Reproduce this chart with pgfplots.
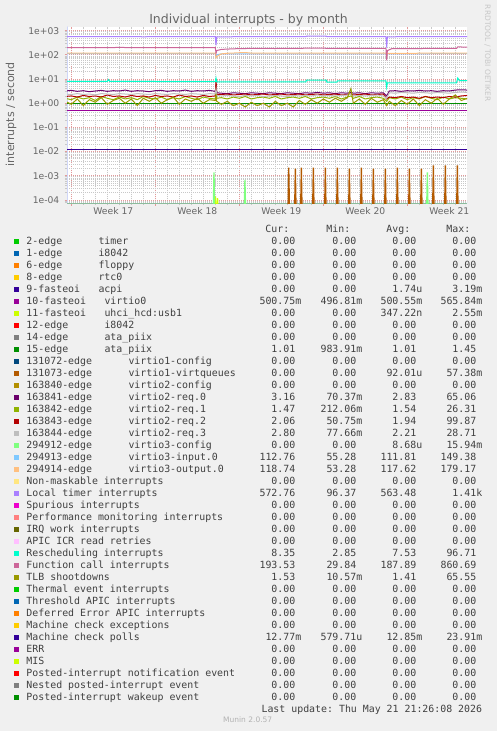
\documentclass[border=0pt]{standalone}
\usepackage{fontspec}
\setmainfont{DejaVu Sans}
\setmonofont{DejaVu Sans Mono}
\usepackage{pgfplots}
\pgfplotsset{compat=1.18}
\usepackage{pgfplotstable}
\usetikzlibrary{arrows.meta}

\definecolor{bgc}{HTML}{F0F0F0}
\definecolor{fontc}{HTML}{666666}
\definecolor{legc}{HTML}{404040}
\definecolor{axblue}{HTML}{CFD6F8}
\definecolor{axgreen}{HTML}{8CBC9C}
\definecolor{mgridc}{HTML}{E39A9A}
\definecolor{gridc}{HTML}{C8C8C8}
\definecolor{mA}{HTML}{00CC00}
\definecolor{mB}{HTML}{0066B3}
\definecolor{mC}{HTML}{FF8000}
\definecolor{mD}{HTML}{FFCC00}
\definecolor{mE}{HTML}{330099}
\definecolor{mF}{HTML}{990099}
\definecolor{mG}{HTML}{CCFF00}
\definecolor{mH}{HTML}{FF0000}
\definecolor{mI}{HTML}{808080}
\definecolor{mJ}{HTML}{008F00}
\definecolor{mK}{HTML}{00487D}
\definecolor{mL}{HTML}{B35A00}
\definecolor{mM}{HTML}{B38F00}
\definecolor{mN}{HTML}{6B006B}
\definecolor{mO}{HTML}{8FB300}
\definecolor{mP}{HTML}{B30000}
\definecolor{mQ}{HTML}{BEBEBE}
\definecolor{mR}{HTML}{80FF80}
\definecolor{mS}{HTML}{80C9FF}
\definecolor{mT}{HTML}{FFC080}
\definecolor{mU}{HTML}{FFE680}
\definecolor{mV}{HTML}{AA80FF}
\definecolor{mW}{HTML}{EE00CC}
\definecolor{mX}{HTML}{FF8080}
\definecolor{mY}{HTML}{666600}
\definecolor{mZ}{HTML}{FFBFFF}
\definecolor{mAA}{HTML}{00FFCC}
\definecolor{mAB}{HTML}{CC6699}
\definecolor{mAC}{HTML}{999900}

% noisy disk / TLB series: day, req.0, req.1, req.2, req.3, TLB
\pgfplotstableread{
x r0 r1 r2 r3 tlb
-0.5 3.2 1.6 1.9 2.4 1.2
0.0 3.4 1.4 2.0 2.3 0.9
0.5 3.1 1.8 1.8 2.5 1.5
1.0 3.3 1.5 2.1 2.3 0.8
1.5 3.0 1.7 1.9 2.4 1.4
2.0 3.2 1.3 2.0 2.2 1.1
2.5 3.4 1.9 1.8 2.5 1.7
3.0 3.1 1.6 2.2 2.4 0.9
3.5 3.3 1.4 1.9 2.3 1.3
4.0 3.2 1.8 2.0 2.5 1.6
4.5 3.5 1.5 1.8 2.4 1.0
5.0 3.1 1.7 2.1 2.3 1.5
5.5 3.3 1.4 1.9 2.5 0.8
6.0 3.2 1.9 2.0 2.4 1.6
6.5 3.0 1.6 1.8 2.3 1.2
7.0 3.3 1.5 2.1 2.5 1.7
7.5 3.4 1.8 1.9 2.4 1.0
8.0 3.1 1.4 2.0 2.3 1.4
8.5 3.3 1.7 1.8 2.5 1.8
9.0 3.2 1.5 2.2 2.4 0.9
9.5 3.5 1.9 1.9 2.3 1.5
10.0 3.1 1.6 2.0 2.5 1.2
10.5 3.3 1.4 1.8 2.4 1.6
11.0 3.2 1.8 2.1 2.3 1.0
11.5 3.4 1.6 1.9 2.5 1.4
12.0 3.1 1.5 2.0 2.4 1.3
12.06 5.0 3.0 10.0 4.0 2.5
12.12 2.7 1.6 2.3 2.1 1.2
12.5 2.6 1.7 2.3 2.0 0.9
13.0 2.5 1.5 2.4 2.1 1.2
13.5 2.7 1.8 2.2 2.0 0.8
14.0 2.6 1.6 2.3 1.9 1.0
14.5 2.5 1.9 2.4 2.1 0.7
15.0 2.7 1.5 2.2 2.0 1.1
15.5 2.6 1.7 2.3 2.1 0.8
16.0 2.5 1.8 2.4 1.9 1.0
16.5 2.7 1.6 2.2 2.0 0.7
17.0 2.6 1.9 2.3 2.1 1.2
17.5 2.5 1.5 2.4 2.0 0.8
18.0 2.7 1.7 2.2 1.9 1.0
18.5 2.6 1.8 2.3 2.1 0.7
19.0 2.5 1.6 2.4 2.0 1.3
19.5 2.7 1.9 2.2 2.1 0.9
20.0 2.6 1.5 2.3 2.0 1.4
20.5 2.8 1.7 2.4 2.2 1.0
21.0 2.6 1.8 2.2 2.0 1.5
21.5 2.7 1.6 2.3 2.1 1.1
22.0 2.5 1.9 2.4 2.0 1.6
22.5 2.7 1.5 2.2 2.1 1.2
23.0 2.6 1.8 2.3 2.2 1.7
23.3 2.8 2.0 2.4 2.3 4.0
23.5 2.6 1.6 2.2 2.0 1.0
24.0 2.7 1.9 2.3 2.1 1.5
24.5 2.5 1.5 2.4 2.0 0.9
25.0 2.7 1.7 2.2 2.1 1.6
25.5 2.6 1.8 2.3 2.2 1.1
26.0 2.7 1.6 2.4 2.0 1.4
26.28 2.0 1.2 1.5 1.6 0.8
26.5 3.2 1.7 1.8 2.7 1.2
27.0 3.3 1.5 1.7 2.6 0.8
27.5 3.1 1.8 1.9 2.8 1.3
28.0 3.3 1.4 1.7 2.7 0.9
28.5 3.2 1.7 1.8 2.6 1.5
29.0 3.4 1.5 1.6 2.8 0.8
29.5 3.2 1.9 1.9 2.7 1.4
30.0 3.3 1.6 1.7 2.6 1.0
30.5 3.1 1.4 1.8 2.8 1.6
31.0 3.3 1.8 1.7 2.7 0.9
31.5 3.2 1.5 1.9 2.6 1.5
32.0 3.5 1.7 1.8 2.8 2.2
32.5 3.6 1.6 2.0 2.9 1.3
33.0 3.5 1.5 2.1 2.8 1.6
}\noisy

\newcommand\sfx[1]{\rlap{#1}}
\newcommand\lfont{\fontsize{9.9bp}{12bp}\ttfamily}
\newcommand\lrow[9]{%
  \pgfmathsetmacro\yy{731-244.5-12*#1}%
  \node[anchor=base west, inner sep=0pt] at (14,\yy) {\textcolor{#2}{\rule{5.3bp}{5.3bp}}};%
  \node[anchor=base west, inner sep=0pt, text=legc, font=\lfont] at (26.3,\yy) {#3};%
  \node[anchor=base west, inner sep=0pt, text=legc, font=\lfont] at ({26.3+6*#4},\yy) {#5};%
  \node[anchor=base east, inner sep=0pt, text=legc, font=\lfont] at (295.5,\yy) {#6};%
  \node[anchor=base east, inner sep=0pt, text=legc, font=\lfont] at (356.5,\yy) {#7};%
  \node[anchor=base east, inner sep=0pt, text=legc, font=\lfont] at (416.5,\yy) {#8};%
  \node[anchor=base east, inner sep=0pt, text=legc, font=\lfont] at (476.5,\yy) {#9};%
}

\begin{document}
\begin{tikzpicture}[x=1bp,y=1bp]
\useasboundingbox (0,0) rectangle (497,731);
\fill[bgc] (0,0) rectangle (497,731);
\fill[white] (67,527.7) rectangle (467,704.3);

\begin{axis}[
  at={(67bp,527.7bp)}, anchor=south west, scale only axis,
  width=400bp, height=176.6bp,
  xmin=-0.358, xmax=32.975,
  ymode=log, log basis y=10, ymin=7.3e-5, ymax=1460,
  axis x line*=bottom, axis y line*=left,
  x axis line style={draw=axgreen, line width=1bp},
  y axis line style={draw=axblue, line width=1bp},
  xtick={0,7,14,21,28}, xticklabels={},
  extra x ticks={3.5,10.5,17.5,24.5,31.5},
  extra x tick labels={Week 17,Week 18,Week 19,Week 20,Week 21},
  extra x tick style={grid=none, major tick length=0pt},
  minor xtick={1,...,32},
  ytick={1e-4,1e-3,1e-2,1e-1,1,10,100,1000},
  yticklabels={1e-04,1e-03,1e-02,1e-01,1e+00,1e+01,1e+02,1e+03},
  minor ytick={8e-5,9e-5,
    2e-4,3e-4,4e-4,5e-4,6e-4,7e-4,8e-4,9e-4,
    2e-3,3e-3,4e-3,5e-3,6e-3,7e-3,8e-3,9e-3,
    2e-2,3e-2,4e-2,5e-2,6e-2,7e-2,8e-2,9e-2,
    0.2,0.3,0.4,0.5,0.6,0.7,0.8,0.9,
    2,3,4,5,6,7,8,9,
    20,30,40,50,60,70,80,90,
    200,300,400,500,600,700,800,900},
  xmajorgrids, xminorgrids, ymajorgrids, yminorgrids,
  major grid style={draw=mgridc, line width=0.8bp, dash pattern=on 1bp off 1bp},
  minor grid style={draw=gridc, line width=0.8bp, dash pattern=on 1bp off 1bp},
  tick align=outside, major tick length=2.5bp, minor tick length=2bp,
  major tick style={draw=mgridc, line width=0.8bp},
  minor tick style={draw=gridc, line width=0.8bp},
  ticklabel style={font=\fontsize{9.2bp}{10bp}\selectfont, text=fontc},
  /pgf/number format/assume math mode=true,
  yticklabel style={anchor=east, inner sep=0pt, xshift=-5bp},
  xticklabel style={anchor=north, inner sep=0pt, yshift=-4.5bp},
  every axis plot/.append style={line width=1bp, mark=none},
  clip=true,
]
% 10-fasteoi virtio0
\addplot[mF] coordinates {(-0.5,0.5) (33,0.5)};
% 11-fasteoi uhci spike
\addplot[mG] coordinates {(11.95,1e-5) (12.03,1.4e-4) (12.1,3e-5) (12.2,1.2e-4) (12.28,1e-5)};
% 15-edge ata_piix
\addplot[mJ] coordinates {(-0.5,1.01) (33,1.01)};
% 131073-edge virtio1-virtqueues spikes
\addplot[mL, line width=1.3bp] coordinates {
 (18.04,1e-5) (18.12,2.15e-3) (18.20,1e-5)
 (18.59,1e-5) (18.67,1.96e-3) (18.75,1e-5)
 (19.09,1e-5) (19.17,2.15e-3) (19.25,1e-5)
 (20.09,1e-5) (20.17,2.15e-3) (20.25,1e-5)
 (21.09,1e-5) (21.17,2.15e-3) (21.25,1e-5)
 (22.09,1e-5) (22.17,2.15e-3) (22.25,1e-5)
 (23.09,1e-5) (23.17,1.96e-3) (23.25,1e-5)
 (24.09,1e-5) (24.17,2.15e-3) (24.25,1e-5)
 (25.09,1e-5) (25.17,1.96e-3) (25.25,1e-5)
 (26.09,1e-5) (26.17,1.96e-3) (26.25,1e-5)
 (27.09,1e-5) (27.17,2.15e-3) (27.25,1e-5)
 (28.09,1e-5) (28.17,1.96e-3) (28.25,1e-5)
 (29.09,1e-5) (29.17,1.96e-3) (29.25,1e-5)
 (30.09,1e-5) (30.17,2.7e-3) (30.25,1e-5)
 (31.09,1e-5) (31.17,2.7e-3) (31.25,1e-5)
 (32.09,1e-5) (32.17,2.7e-3) (32.25,1e-5)};
% virtio2 req.0 .. req.3
\addplot[mN] table[x=x, y=r0] {\noisy};
\addplot[mO] table[x=x, y=r1] {\noisy};
\addplot[mP] table[x=x, y=r2] {\noisy};
\addplot[mQ] table[x=x, y=r3] {\noisy};
% 294912-edge virtio3-config spikes
\addplot[mR, line width=1.3bp] coordinates {
 (11.81,1e-5) (11.89,1.37e-3) (11.97,1e-5)
 (14.39,1e-5) (14.47,6.8e-4) (14.55,1e-5)
 (29.59,1e-5) (29.67,1.37e-3) (29.75,1e-5)};
% 294913 input.0
\addplot[mS] coordinates {(-0.5,113) (12.0,113) (12.06,85) (12.12,100) (12.5,110) (26.22,111) (26.28,90) (26.34,110) (33,112)};
% 294914 output.0
\addplot[mT] coordinates {(-0.5,118) (12.0,118) (12.06,75) (12.12,85) (12.5,110) (13,116) (14.5,125) (15,118) (26.22,117) (26.28,85) (26.34,115) (33,119)};
% Local timer interrupts
\addplot[mV] coordinates {(-0.5,560) (3,565) (6,560) (9,563) (12.0,563) (12.06,250) (12.12,555) (12.5,560) (19.55,562) (19.6,595) (21.25,595) (21.3,563) (26.22,563) (26.28,200) (26.34,560) (32.0,562) (33,565)};
% Rescheduling interrupts
\addplot[mAA] coordinates {(-0.5,8.0) (3.0,8.0) (3.1,9.5) (3.2,8.0) (12.0,7.8) (12.06,11) (12.12,7.6) (19.55,7.6) (19.6,9.0) (21.25,9.0) (21.3,7.4) (22.1,7.4) (22.2,8.3) (26.22,8.3) (26.28,4.6) (26.34,7.0) (32.1,7.0) (32.2,11) (32.35,8.5) (33,8.5)};
% Function call interrupts
\addplot[mAB] coordinates {(-0.5,200) (2,198) (4,202) (6,199) (8,201) (10,198) (12.0,200) (12.06,115) (12.12,150) (12.5,168) (13.5,178) (15,185) (17,183) (19.6,188) (20,192) (21.3,187) (23,185) (26.22,185) (26.28,60) (26.34,150) (26.7,180) (29,183) (32.1,184) (32.2,212) (33,210)};
% TLB shootdowns
\addplot[mAC] table[x=x, y=tlb] {\noisy};
% Machine check polls
\addplot[mE] coordinates {(-0.5,0.0128) (33,0.0128)};

\draw[axblue, line width=1bp, -{Triangle[length=5bp,width=5bp]}] (rel axis cs:0,1) -- ++(0,5bp);
\draw[axblue, line width=1bp, -{Triangle[length=5bp,width=5bp]}] (rel axis cs:1,0) -- ++(7bp,0);
\end{axis}

% title, axis label, side text
\node[anchor=base, inner sep=0pt, text=fontc, font=\fontsize{12.5bp}{14bp}\selectfont] at (248.5,707.5) {Individual interrupts - by month};
\node[anchor=base, inner sep=0pt, rotate=90, text=fontc, font=\fontsize{11bp}{13bp}\selectfont] at (14,616.8) {interrupts / second};
\node[anchor=base, inner sep=0pt, rotate=-90, text=black!22, font=\fontsize{7.5bp}{9bp}\selectfont] at (485,677.7) {RRDTOOL / TOBI OETIKER};

% legend header
\node[anchor=base east, inner sep=0pt, text=legc, font=\lfont] at (289.5,498.5) {Cur:};
\node[anchor=base east, inner sep=0pt, text=legc, font=\lfont] at (350.5,498.5) {Min:};
\node[anchor=base east, inner sep=0pt, text=legc, font=\lfont] at (410.5,498.5) {Avg:};
\node[anchor=base east, inner sep=0pt, text=legc, font=\lfont] at (470.5,498.5) {Max:};

\lrow{0}{mA}{2-edge}{12}{timer}{0.00}{0.00}{0.00}{0.00}
\lrow{1}{mB}{1-edge}{12}{i8042}{0.00}{0.00}{0.00}{0.00}
\lrow{2}{mC}{6-edge}{12}{floppy}{0.00}{0.00}{0.00}{0.00}
\lrow{3}{mD}{8-edge}{12}{rtc0}{0.00}{0.00}{0.00}{0.00}
\lrow{4}{mE}{9-fasteoi}{12}{acpi}{0.00}{0.00}{1.74\sfx{u}}{3.19\sfx{m}}
\lrow{5}{mF}{10-fasteoi}{13}{virtio0}{500.75\sfx{m}}{496.81\sfx{m}}{500.55\sfx{m}}{565.84\sfx{m}}
\lrow{6}{mG}{11-fasteoi}{13}{uhci\_hcd:usb1}{0.00}{0.00}{347.22\sfx{n}}{2.55\sfx{m}}
\lrow{7}{mH}{12-edge}{13}{i8042}{0.00}{0.00}{0.00}{0.00}
\lrow{8}{mI}{14-edge}{13}{ata\_piix}{0.00}{0.00}{0.00}{0.00}
\lrow{9}{mJ}{15-edge}{13}{ata\_piix}{1.01}{983.91\sfx{m}}{1.01}{1.45}
\lrow{10}{mK}{131072-edge}{17}{virtio1-config}{0.00}{0.00}{0.00}{0.00}
\lrow{11}{mL}{131073-edge}{17}{virtio1-virtqueues}{0.00}{0.00}{92.01\sfx{u}}{57.38\sfx{m}}
\lrow{12}{mM}{163840-edge}{17}{virtio2-config}{0.00}{0.00}{0.00}{0.00}
\lrow{13}{mN}{163841-edge}{17}{virtio2-req.0}{3.16}{70.37\sfx{m}}{2.83}{65.06}
\lrow{14}{mO}{163842-edge}{17}{virtio2-req.1}{1.47}{212.06\sfx{m}}{1.54}{26.31}
\lrow{15}{mP}{163843-edge}{17}{virtio2-req.2}{2.06}{50.75\sfx{m}}{1.94}{99.87}
\lrow{16}{mQ}{163844-edge}{17}{virtio2-req.3}{2.80}{77.66\sfx{m}}{2.21}{28.71}
\lrow{17}{mR}{294912-edge}{17}{virtio3-config}{0.00}{0.00}{8.68\sfx{u}}{15.94\sfx{m}}
\lrow{18}{mS}{294913-edge}{17}{virtio3-input.0}{112.76}{55.28}{111.81}{149.38}
\lrow{19}{mT}{294914-edge}{17}{virtio3-output.0}{118.74}{53.28}{117.62}{179.17}
\lrow{20}{mU}{Non-maskable interrupts}{0}{}{0.00}{0.00}{0.00}{0.00}
\lrow{21}{mV}{Local timer interrupts}{0}{}{572.76}{96.37}{563.48}{1.41\sfx{k}}
\lrow{22}{mW}{Spurious interrupts}{0}{}{0.00}{0.00}{0.00}{0.00}
\lrow{23}{mX}{Performance monitoring interrupts}{0}{}{0.00}{0.00}{0.00}{0.00}
\lrow{24}{mY}{IRQ work interrupts}{0}{}{0.00}{0.00}{0.00}{0.00}
\lrow{25}{mZ}{APIC ICR read retries}{0}{}{0.00}{0.00}{0.00}{0.00}
\lrow{26}{mAA}{Rescheduling interrupts}{0}{}{8.35}{2.85}{7.53}{96.71}
\lrow{27}{mAB}{Function call interrupts}{0}{}{193.53}{29.84}{187.89}{860.69}
\lrow{28}{mAC}{TLB shootdowns}{0}{}{1.53}{10.57\sfx{m}}{1.41}{65.55}
\lrow{29}{mA}{Thermal event interrupts}{0}{}{0.00}{0.00}{0.00}{0.00}
\lrow{30}{mB}{Threshold APIC interrupts}{0}{}{0.00}{0.00}{0.00}{0.00}
\lrow{31}{mC}{Deferred Error APIC interrupts}{0}{}{0.00}{0.00}{0.00}{0.00}
\lrow{32}{mD}{Machine check exceptions}{0}{}{0.00}{0.00}{0.00}{0.00}
\lrow{33}{mE}{Machine check polls}{0}{}{12.77\sfx{m}}{579.71\sfx{u}}{12.85\sfx{m}}{23.91\sfx{m}}
\lrow{34}{mF}{ERR}{0}{}{0.00}{0.00}{0.00}{0.00}
\lrow{35}{mG}{MIS}{0}{}{0.00}{0.00}{0.00}{0.00}
\lrow{36}{mH}{Posted-interrupt notification event}{0}{}{0.00}{0.00}{0.00}{0.00}
\lrow{37}{mI}{Nested posted-interrupt event}{0}{}{0.00}{0.00}{0.00}{0.00}
\lrow{38}{mJ}{Posted-interrupt wakeup event}{0}{}{0.00}{0.00}{0.00}{0.00}

\node[anchor=base east, inner sep=0pt, text=legc, font=\lfont] at (482.3,18.8) {Last update: Thu May 21 21:26:08 2026};
\node[anchor=center, inner sep=0pt, text=black!30, font=\fontsize{7.5bp}{9bp}\selectfont] at (247.7,11) {Munin 2.0.57};
\end{tikzpicture}
\end{document}
